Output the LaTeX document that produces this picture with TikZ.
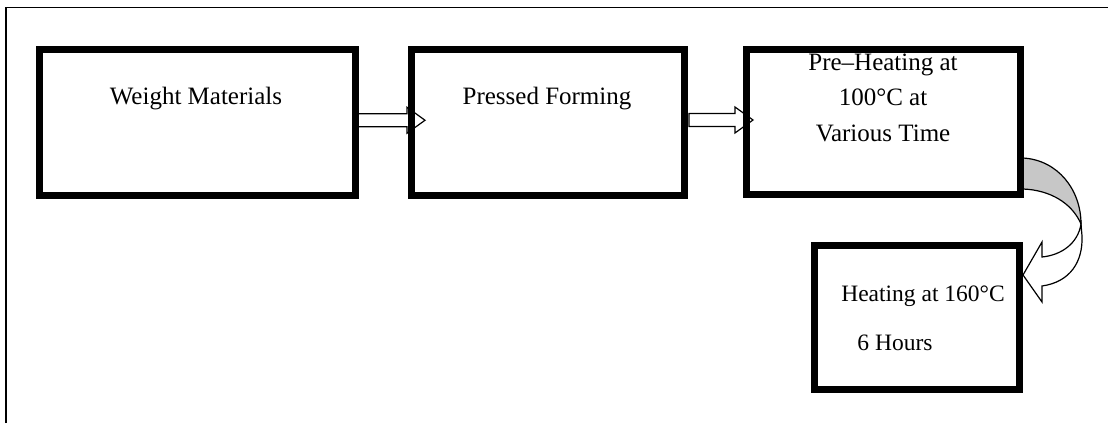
\documentclass[tikz,border=0pt]{standalone}
\usepackage{fontspec}
\setmainfont{Liberation Serif}
\usetikzlibrary{calc}
\begin{document}
\begin{tikzpicture}[x=1pt,y=-1pt,
  stepbox/.style={draw=black, line width=7pt, inner sep=0pt, outer sep=0pt},
  txt/.style={anchor=base, inner sep=0pt, font=\fontsize{25}{30}\selectfont},
  blockarr/.style={draw=black, fill=white, line width=1.2pt, line join=miter},
  frame/.style={draw=black, line width=1.8pt}]
\useasboundingbox (0,0) rectangle (1108,423);
% outer frame (open to the right and bottom)
\draw[frame] (6,423) -- (6,7.5) -- (1108,7.5);

% box centres
\path (197.25,122.25) coordinate (c1);
\path (547.75,122) coordinate (c2);
\path (883.25,121.5) coordinate (c3);
\path (916.75,317) coordinate (c4);

\node[stepbox, minimum width=315.5pt, minimum height=146.5pt] (b1) at (c1) {};
\node[stepbox, minimum width=272.5pt, minimum height=146pt] (b2) at (c2) {};
\node[stepbox, minimum width=273.5pt, minimum height=145pt] (b3) at (c3) {};
\node[stepbox, minimum width=204.5pt, minimum height=144pt] (b4) at (c4) {};

% straight block arrows
\coordinate (a1) at ($(b1.east)+(2,-2)$);
\coordinate (a2) at ($(b2.east)+(5,-2)$);
\draw[blockarr] ($(a1)+(0,-6.5)$) -- ++(50,0) -- ++(0,-6.5) -- ++(18,13) -- ++(-18,13) -- ++(0,-6.5) -- ++(-50,0) -- cycle;
\draw[blockarr] ($(a2)+(0,-6.5)$) -- ++(46,0) -- ++(0,-6.5) -- ++(18,13) -- ++(-18,13) -- ++(0,-6.5) -- ++(-46,0) -- cycle;

% curved block arrow from b3 to b4
\filldraw[fill=black!22, draw=black, line width=1.2pt]
  (1023,158) .. controls (1058,160) and (1081,190) .. (1081,224)
  .. controls (1072,203) and (1050,190) .. (1023,189) -- cycle;
\filldraw[fill=white, draw=black, line width=1.2pt, line join=miter]
  (1081,224) .. controls (1078,243) and (1062,255) .. (1042,257)
  -- (1042,242) -- (1023,275) -- (1042,302) -- (1042,286)
  .. controls (1070,282) and (1083,262) .. (1082,236) -- cycle;

% redraw boxes on top of the arrows
\node[stepbox, minimum width=315.5pt, minimum height=146.5pt] at (c1) {};
\node[stepbox, minimum width=272.5pt, minimum height=146pt] at (c2) {};
\node[stepbox, minimum width=273.5pt, minimum height=145pt] at (c3) {};
\node[stepbox, minimum width=204.5pt, minimum height=144pt] at (c4) {};

% texts
\node[txt] (t1) at (196,104) {Weight Materials};
\node[txt] (t2) at (547,104) {Pressed Forming};
\node[txt] (t3a) at (883,70) {Pre–Heating at};
\node[txt] (t3b) at (883,105) {100°C at};
\node[txt] (t3c) at (883,141) {Various Time};
\node[txt, font=\fontsize{23.5}{28}\selectfont] (t4a) at (923,301) {Heating at 160°C};
\node[txt, font=\fontsize{23.5}{28}\selectfont] (t4b) at (895,350) {6 Hours};
\end{tikzpicture}
\end{document}
